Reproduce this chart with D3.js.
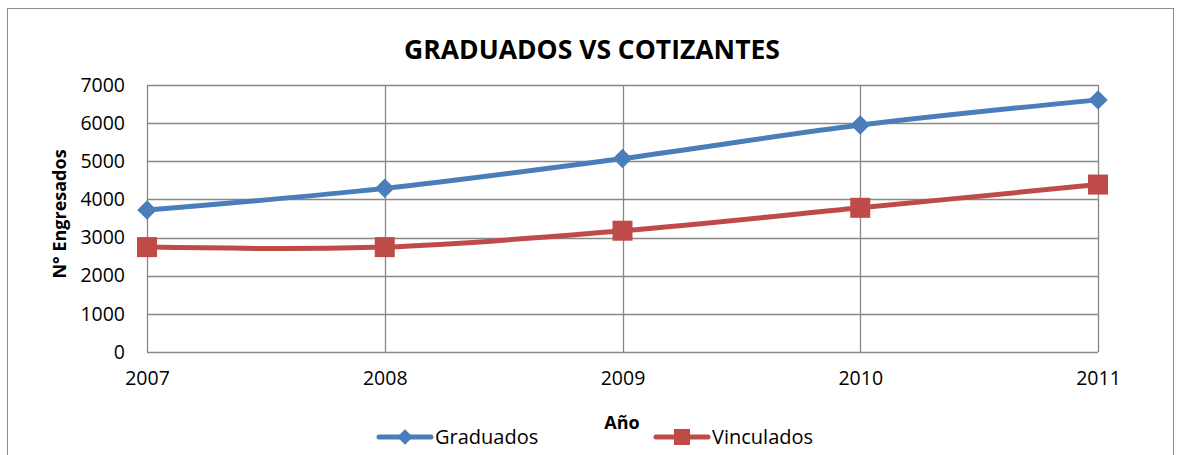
<!DOCTYPE html>
<html>
<head>
<meta charset="utf-8">
<script src="https://cdn.jsdelivr.net/npm/d3@7"></script>
<style>
  body { margin: 0; background: #fff; }
  svg text { font-family: "Open Sans", sans-serif; fill: #000; }
</style>
</head>
<body>
<div id="chart"></div>
<script>
const years = ["2007", "2008", "2009", "2010", "2011"]
const graduados = [3720, 4290, 5070, 5950, 6610]
const vinculados = [2750, 2750, 3180, 3780, 4390]
const yTicks = [0, 1000, 2000, 3000, 4000, 5000, 6000, 7000]

const width = 1177
const height = 455
const margin = { top: 85, right: 79, bottom: 103, left: 147 }
const font = "'Open Sans', sans-serif"

const svg = d3.select("#chart")
  .append("svg")
  .attr("width", width)
  .attr("height", height)

// chart border
svg.append("rect")
  .attr("x", 7.5).attr("y", 8.5)
  .attr("width", 1166).attr("height", 460)
  .attr("fill", "none")
  .attr("stroke", "#8c8c8c")
  .attr("stroke-width", 1)

const x = d3.scalePoint()
  .domain(years)
  .range([margin.left, width - margin.right])

const y = d3.scaleLinear()
  .domain([0, 7000])
  .range([height - margin.bottom, margin.top])

const gridColor = "#888"

// horizontal gridlines
svg.append("g")
  .selectAll("line")
  .data(yTicks)
  .join("line")
  .attr("x1", margin.left)
  .attr("x2", width - margin.right)
  .attr("y1", d => Math.round(y(d)) + 0.5)
  .attr("y2", d => Math.round(y(d)) + 0.5)
  .attr("stroke", gridColor)
  .attr("stroke-width", 1.3)

// vertical gridlines
svg.append("g")
  .selectAll("line")
  .data(years)
  .join("line")
  .attr("x1", d => Math.round(x(d)) + 0.5)
  .attr("x2", d => Math.round(x(d)) + 0.5)
  .attr("y1", margin.top)
  .attr("y2", height - margin.bottom)
  .attr("stroke", gridColor)
  .attr("stroke-width", 1.3)

// Axes
const yAxis = svg.append("g")
  .attr("transform", `translate(${margin.left},0)`)
  .call(d3.axisLeft(y).tickValues(yTicks).tickFormat(d3.format("d")).tickSize(0).tickPadding(22))
yAxis.select(".domain").remove()
yAxis.selectAll("text")
  .style("font-size", "19.5px")
  .style("font-family", font)

const xAxis = svg.append("g")
  .attr("transform", `translate(0,${height - margin.bottom})`)
  .call(d3.axisBottom(x).tickSize(0).tickPadding(19))
xAxis.select(".domain").remove()
xAxis.selectAll("text")
  .style("font-size", "19.5px")
  .style("font-family", font)

// Series
const line = d3.line()
  .x((d, i) => x(years[i]))
  .y(d => y(d))
  .curve(d3.curveCardinal.tension(0))

const blue = "#4a7ebb"
const red = "#be4b48"

svg.append("path")
  .datum(graduados)
  .attr("fill", "none")
  .attr("stroke", blue)
  .attr("stroke-width", 5)
  .attr("stroke-linecap", "round")
  .attr("d", line)

svg.append("path")
  .datum(vinculados)
  .attr("fill", "none")
  .attr("stroke", red)
  .attr("stroke-width", 5)
  .attr("stroke-linecap", "round")
  .attr("d", line)

const diamond = d3.symbol().type(d3.symbolSquare).size(190)

svg.selectAll(".dia")
  .data(graduados)
  .join("path")
  .attr("class", "dia")
  .attr("d", diamond)
  .attr("transform", (d, i) => `translate(${x(years[i])},${y(d)}) rotate(45)`)
  .attr("fill", blue)

svg.selectAll(".sq")
  .data(vinculados)
  .join("rect")
  .attr("class", "sq")
  .attr("x", (d, i) => x(years[i]) - 10)
  .attr("y", d => y(d) - 10)
  .attr("width", 20)
  .attr("height", 20)
  .attr("fill", red)

// Titles
svg.append("text")
  .attr("x", 592)
  .attr("y", 59)
  .attr("text-anchor", "middle")
  .style("font-size", "26.5px")
  .style("font-weight", "bold")
  .text("GRADUADOS VS COTIZANTES")

svg.append("text")
  .attr("transform", `translate(66,214) rotate(-90)`)
  .attr("text-anchor", "middle")
  .style("font-size", "18px")
  .style("font-weight", "bold")
  .text("N° Engresados")

svg.append("text")
  .attr("x", 622)
  .attr("y", 429)
  .attr("text-anchor", "middle")
  .style("font-size", "18px")
  .style("font-weight", "bold")
  .text("Año")

// Legend
const legend = [
  { name: "Graduados", color: blue, x0: 379, shape: "diamond" },
  { name: "Vinculados", color: red, x0: 656, shape: "square" }
]
const ly = 437

legend.forEach(l => {
  const g = svg.append("g")
  g.append("line")
    .attr("x1", l.x0).attr("x2", l.x0 + 52)
    .attr("y1", ly).attr("y2", ly)
    .attr("stroke", l.color)
    .attr("stroke-width", 5)
    .attr("stroke-linecap", "round")
  if (l.shape === "diamond") {
    g.append("path")
      .attr("d", d3.symbol().type(d3.symbolSquare).size(120))
      .attr("transform", `translate(${l.x0 + 26},${ly}) rotate(45)`)
      .attr("fill", l.color)
  } else {
    g.append("rect")
      .attr("x", l.x0 + 26 - 8).attr("y", ly - 8)
      .attr("width", 16).attr("height", 16)
      .attr("fill", l.color)
  }
  g.append("text")
    .attr("x", l.x0 + 56)
    .attr("y", ly + 7)
    .style("font-size", "20px")
    .text(l.name)
})
</script>
</body>
</html>
